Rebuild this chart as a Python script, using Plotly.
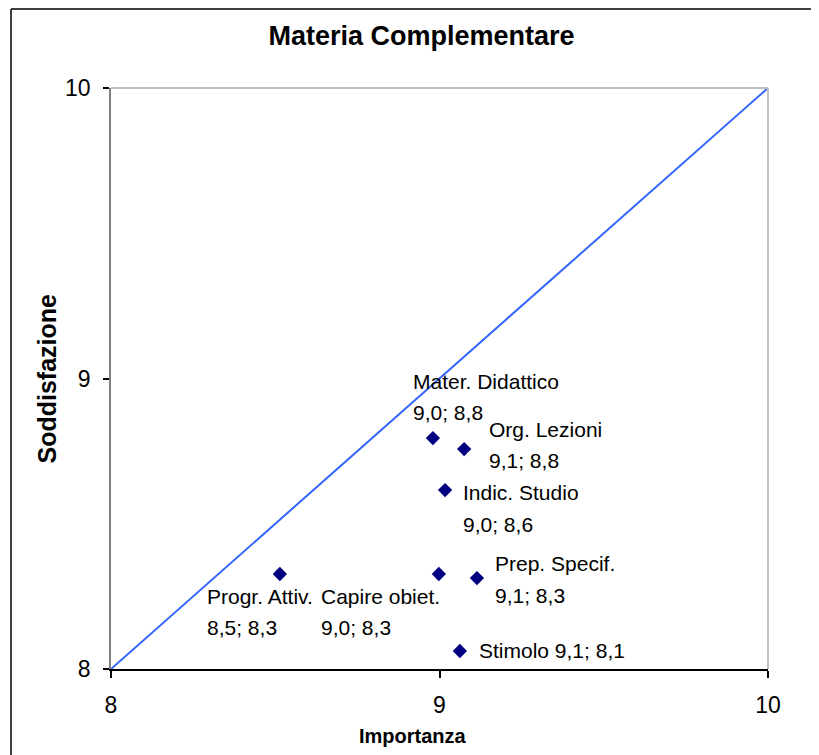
import plotly.graph_objects as go

# ---- data ----
names = ["Mater. Didattico", "Org. Lezioni", "Indic. Studio", "Prep. Specif.",
         "Capire obiet.", "Progr. Attiv.", "Stimolo"]
importanza = [8.98, 9.075, 9.017, 9.114, 8.998, 8.514, 9.062]
soddisfazione = [8.795, 8.757, 8.616, 8.313, 8.327, 8.327, 8.062]
diag_x = [8, 10]
diag_y = [8, 10]
tick_vals = [8, 9, 10]

# label layout: (xshift, yshift line1, yshift line2 or None for single line)
label_offsets = [(-22, 57, 26), (23, 20, -11), (16, -2, -34), (16, 15, -17),
                 (-120, -22, -53), (-75, -22, -53), (17, 0, None)]

FONT = "Liberation Sans, Arial, sans-serif"
LBL = 21

def fmt(v):
    return f"{v:.1f}".replace(".", ",")

fig = go.Figure()
fig.add_trace(go.Scatter(x=diag_x, y=diag_y, mode="lines",
                         line=dict(color="#3366FF", width=2), hoverinfo="skip",
                         showlegend=False))
fig.add_trace(go.Scatter(x=importanza, y=soddisfazione, mode="markers",
                         marker=dict(symbol="diamond", size=11, color="#000080"),
                         showlegend=False))

annotations = []
for n, xv, yv, (xs, y1, y2) in zip(names, importanza, soddisfazione, label_offsets):
    val = f"{fmt(xv)}; {fmt(yv)}"
    if y2 is None:
        annotations.append(dict(x=xv, y=yv, xref="x", yref="y", text=f"{n} {val}",
                                showarrow=False, xanchor="left", yanchor="middle",
                                xshift=xs, yshift=y1,
                                font=dict(family=FONT, size=LBL, color="black")))
    else:
        annotations.append(dict(x=xv, y=yv, xref="x", yref="y", text=n,
                                showarrow=False, xanchor="left", yanchor="middle",
                                xshift=xs, yshift=y1,
                                font=dict(family=FONT, size=LBL, color="black")))
        annotations.append(dict(x=xv, y=yv, xref="x", yref="y", text=val,
                                showarrow=False, xanchor="left", yanchor="middle",
                                xshift=xs, yshift=y2,
                                font=dict(family=FONT, size=LBL, color="black")))

# axis titles
annotations.append(dict(x=(413 - 111) / 657, y=(669 - 736) / 581, xref="paper", yref="paper",
                        text="<b>Importanza</b>", showarrow=False,
                        xanchor="center", yanchor="middle",
                        font=dict(family=FONT, size=20, color="black")))
annotations.append(dict(x=(46 - 111) / 657, y=0.5, xref="paper", yref="paper",
                        text="<b>Soddisfazione</b>", showarrow=False, textangle=-90,
                        xanchor="center", yanchor="middle",
                        font=dict(family=FONT, size=25, color="black")))

shapes = [
    # top & right plot-area border (light gray)
    dict(type="line", xref="paper", yref="paper", x0=0, x1=1, y0=1, y1=1,
         line=dict(color="#C0C0C0", width=2)),
    dict(type="line", xref="paper", yref="paper", x0=1, x1=1, y0=0, y1=1,
         line=dict(color="#C0C0C0", width=2)),
    # outer chart frame (left and top edges visible; right/bottom off-page)
    dict(type="line", xref="paper", yref="paper",
         x0=(11 - 111) / 657, x1=(11 - 111) / 657,
         y0=(669 - 900) / 581, y1=(669 - 9) / 581,
         line=dict(color="black", width=1.5), layer="below"),
    dict(type="line", xref="paper", yref="paper",
         x0=(11 - 111) / 657, x1=(950 - 111) / 657,
         y0=(669 - 9) / 581, y1=(669 - 9) / 581,
         line=dict(color="black", width=1.5), layer="below"),
]

# page body has an 8px margin: plot area should span x 111..768, y 88..669 on the page
W, H = 811, 747
fig.update_layout(
    width=W, height=H,
    margin=dict(l=103, r=W - 103 - 657, t=80, b=H - 80 - 581),
    paper_bgcolor="white", plot_bgcolor="white",
    title=dict(text="<b>Materia Complementare</b>", x=413.5 / W, xref="container",
               xanchor="center", y=1 - 28 / H, yref="container", yanchor="middle",
               font=dict(family=FONT, size=27, color="black")),
    xaxis=dict(range=[8, 10], tickvals=tick_vals, showgrid=False, zeroline=False,
               showline=True, linecolor="black", linewidth=1.5,
               ticks="outside", ticklen=7, tickcolor="black", tickwidth=1.5,
               ticklabelstandoff=8,
               tickfont=dict(family=FONT, size=23, color="black")),
    yaxis=dict(range=[8, 10], tickvals=tick_vals, showgrid=False, zeroline=False,
               showline=True, linecolor="#808080", linewidth=1.5,
               ticks="outside", ticklen=6, tickcolor="black", tickwidth=1.5,
               ticklabelstandoff=8,
               tickfont=dict(family=FONT, size=23, color="black")),
    annotations=annotations,
    shapes=shapes,
    showlegend=False,
)

fig.write_html("out.html")
